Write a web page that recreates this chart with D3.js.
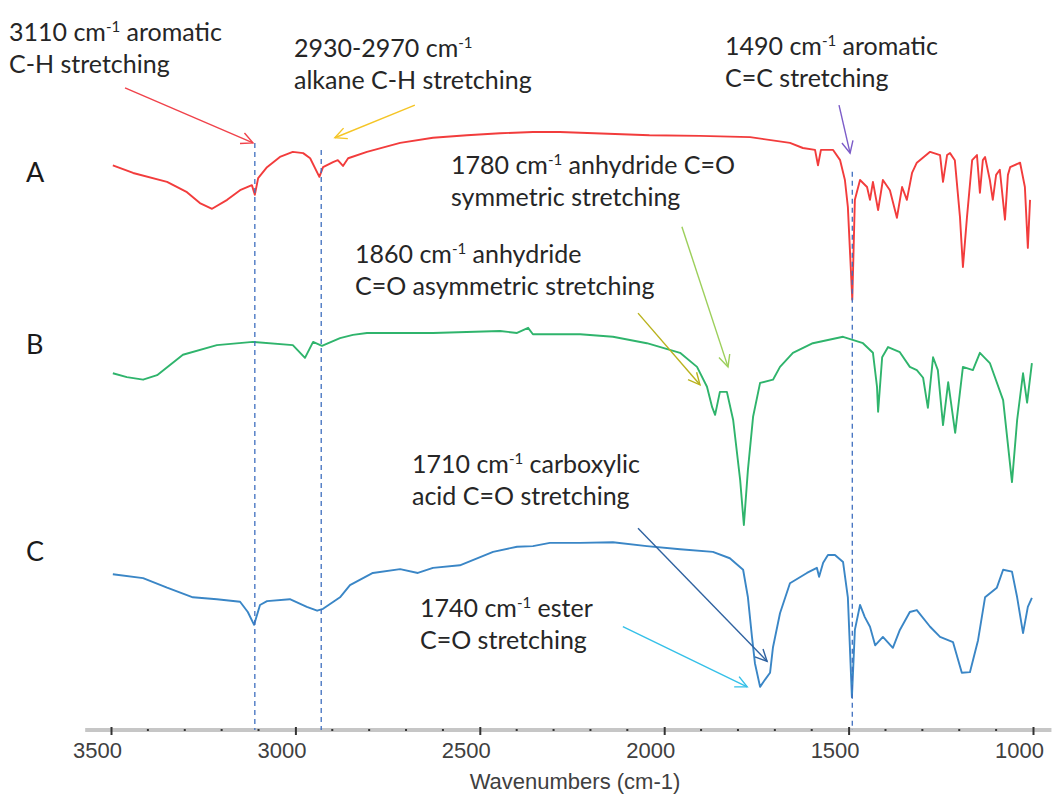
<!DOCTYPE html>
<html>
<head>
<meta charset="utf-8">
<script src="https://cdn.jsdelivr.net/npm/d3@7"></script>
<style>
  body { margin: 0; background: #fff; }
  svg { display: block; }
</style>
</head>
<body>
<svg id="chart" width="1052" height="795"></svg>
<script>
// FTIR spectra, [wavenumber (cm-1), transmittance (a.u., stacked)]
const traceA = [
  [3495, 89.8], [3440, 88.6], [3348, 87.2], [3294, 85.6], [3259, 83.9], [3226, 83.0],
  [3185, 84.4], [3150, 85.9], [3118, 86.7], [3110, 85.2], [3101, 87.8], [3077, 89.5],
  [3042, 91.1], [3007, 91.9], [2979, 91.7], [2960, 90.9], [2935, 88.0], [2925, 89.5],
  [2898, 90.3], [2885, 90.6], [2871, 89.7], [2857, 90.9], [2806, 91.9], [2716, 93.3],
  [2627, 94.1], [2535, 94.5], [2445, 94.8], [2356, 95.0], [2283, 95.0], [2040, 94.5],
  [1903, 94.4], [1767, 94.2], [1659, 93.3], [1624, 92.5], [1591, 92.2], [1583, 89.8],
  [1575, 92.2], [1542, 92.2], [1523, 90.6], [1510, 87.5], [1502, 83.3], [1490, 68.8],
  [1483, 84.4], [1469, 87.5], [1450, 86.4], [1442, 84.4], [1434, 87.2], [1420, 82.8],
  [1407, 87.5], [1388, 85.9], [1369, 81.6], [1355, 86.4], [1342, 84.4], [1328, 88.6],
  [1315, 90.2], [1279, 91.9], [1252, 91.4], [1244, 87.2], [1233, 91.4], [1225, 91.7],
  [1212, 90.6], [1198, 81.7], [1190, 73.9], [1179, 81.7], [1165, 90.6], [1152, 91.4],
  [1144, 85.5], [1136, 90.6], [1130, 91.1], [1117, 87.5], [1109, 84.4], [1100, 88.3],
  [1090, 89.1], [1076, 81.3], [1068, 88.3], [1062, 89.5], [1035, 90.2], [1022, 86.4],
  [1014, 76.9], [1008, 84.4]
];
const traceB = [
  [3495, 57.3], [3457, 56.7], [3413, 56.3], [3375, 57.0], [3305, 60.2], [3213, 61.7],
  [3115, 62.2], [3007, 61.7], [2974, 59.7], [2952, 62.2], [2928, 61.6], [2879, 62.8],
  [2844, 63.3], [2806, 63.6], [2627, 63.6], [2445, 63.9], [2399, 63.6], [2369, 64.4],
  [2356, 63.4], [2228, 63.4], [2139, 63.0], [2047, 62.0], [1957, 60.5], [1911, 58.3],
  [1884, 55.2], [1870, 52.0], [1862, 50.8], [1849, 54.4], [1830, 54.4], [1813, 50.0],
  [1794, 40.6], [1784, 33.6], [1773, 42.2], [1759, 50.5], [1740, 55.8], [1705, 56.3],
  [1686, 58.3], [1651, 60.5], [1597, 62.0], [1515, 63.0], [1461, 62.0], [1434, 60.5],
  [1423, 55.2], [1420, 51.3], [1409, 59.8], [1393, 61.4], [1361, 60.6], [1334, 58.3],
  [1315, 57.8], [1298, 56.6], [1285, 51.9], [1271, 59.8], [1258, 57.8], [1244, 49.2],
  [1230, 55.9], [1211, 48.0], [1190, 58.3], [1163, 57.8], [1144, 60.5], [1117, 58.9],
  [1081, 53.1], [1057, 40.3], [1043, 50.0], [1027, 57.3], [1016, 52.7], [1003, 58.9]
];
const traceC = [
  [3495, 25.9], [3413, 25.3], [3348, 23.8], [3278, 22.3], [3213, 22.0], [3150, 21.6],
  [3129, 20.0], [3112, 18.0], [3096, 21.1], [3077, 21.7], [3015, 22.0], [2969, 20.8],
  [2941, 20.2], [2925, 20.5], [2879, 22.3], [2852, 24.2], [2790, 26.1], [2716, 26.7],
  [2668, 26.1], [2627, 26.9], [2554, 27.3], [2464, 29.4], [2399, 30.2], [2356, 30.3],
  [2310, 30.8], [2228, 30.8], [2139, 30.9], [2047, 30.3], [1957, 29.8], [1868, 29.4],
  [1822, 28.4], [1786, 26.6], [1773, 22.3], [1762, 16.1], [1754, 12.0], [1740, 8.3],
  [1727, 9.4], [1713, 10.5], [1705, 14.5], [1686, 19.8], [1659, 24.5], [1613, 26.1],
  [1586, 26.9], [1580, 25.5], [1569, 27.7], [1556, 28.9], [1537, 28.9], [1515, 27.8],
  [1502, 22.3], [1491, 6.7], [1483, 17.2], [1469, 21.1], [1456, 19.2], [1442, 17.7],
  [1428, 14.8], [1407, 16.1], [1380, 14.4], [1361, 17.2], [1334, 20.0], [1315, 20.3],
  [1279, 17.7], [1252, 16.1], [1217, 15.3], [1193, 10.5], [1171, 10.6], [1149, 15.6],
  [1130, 22.3], [1098, 23.8], [1081, 26.6], [1057, 26.3], [1043, 22.3], [1027, 16.7],
  [1014, 20.8], [1003, 22.2]
];

const seriesNames = ["A", "B", "C"];
const seriesColors = ["#f23c3c", "#2fb46c", "#3a86c6"];

// axis ticks
const majorTicks = [3500, 3000, 2500, 2000, 1500, 1000];
const minorTicks = d3.range(3500, 999, -100).filter(d => d % 500 !== 0);

// dashed guide lines: [wavenumber, top value]
const guideLines = [[3110, 93.3], [2930, 92.2], [1490, 88.8]];

// arrows: [start wn, start value, tip wn, tip value, colour]
const arrows = [
  [3462, 101.9, 3115, 93.3, "#f0424a"],
  [2676, 99.2, 2893, 94.1, "#f5c526"],
  [1526, 99.2, 1496, 91.7, "#7c5cc8"],
  [1952, 80.2, 1827, 58.3, "#9ccf5a"],
  [2071, 66.7, 1903, 55.5, "#b9b21c"],
  [2071, 33.1, 1721, 12.3, "#2f62a0"],
  [2112, 17.7, 1775, 8.3, "#35c0e8"]
];

// notes: x, baseline of first line, [number, rest of first line], second line
const notes = [
  [9, 41, ["3110 cm", " aromatic"], "C-H stretching"],
  [294, 57, ["2930-2970 cm", ""], "alkane C-H stretching"],
  [725, 55, ["1490 cm", " aromatic"], "C=C stretching"],
  [451, 174, ["1780 cm", " anhydride C=O"], "symmetric stretching"],
  [355, 263, ["1860 cm", " anhydride"], "C=O asymmetric stretching"],
  [412, 473, ["1710 cm", " carboxylic"], "acid C=O stretching"],
  [420, 617, ["1740 cm", " ester"], "C=O stretching"]
];
const labelBaselines = [182, 354, 561];

const svg = d3.select("#chart");

const x = d3.scaleLinear().domain([3500, 1000]).range([111, 1033]);
const y = d3.scaleLinear().domain([0, 100]).range([740, 100]);

const line = d3.line()
  .x(d => x(d[0]))
  .y(d => y(d[1]));

// axis band, drawn a bit wider than the data range
const axisY = 730;
svg.append("line")
  .attr("x1", x(3570)).attr("x2", x(950))
  .attr("y1", axisY).attr("y2", axisY)
  .attr("stroke", "#c6c6c6")
  .attr("stroke-width", 4);

svg.selectAll(".minor")
  .data(minorTicks)
  .enter().append("rect")
  .attr("class", "minor")
  .attr("x", d => x(d) - 1)
  .attr("y", axisY - 1)
  .attr("width", 2)
  .attr("height", 2)
  .attr("fill", "#333");

const xAxis = d3.axisBottom(x)
  .tickValues(majorTicks)
  .tickSize(8)
  .tickFormat(d3.format("d"));

const gx = svg.append("g")
  .attr("transform", `translate(0, ${axisY - 3})`)
  .call(xAxis);
gx.select(".domain").remove();
gx.selectAll(".tick line").attr("stroke", "#333").attr("stroke-width", 2);
gx.selectAll(".tick text")
  .attr("y", 31)
  .attr("dy", 0)
  .attr("dx", -14)
  .attr("fill", "#404040")
  .attr("font-family", "'Liberation Sans', Arial, sans-serif")
  .attr("font-size", 22);

svg.append("text")
  .attr("x", 575)
  .attr("y", 789)
  .attr("text-anchor", "middle")
  .attr("fill", "#404040")
  .attr("font-family", "'Liberation Sans', Arial, sans-serif")
  .attr("font-size", 22)
  .text("Wavenumbers (cm-1)");

// spectra
[traceA, traceB, traceC].forEach((trace, i) => {
  svg.append("path")
    .datum(trace)
    .attr("fill", "none")
    .attr("stroke", seriesColors[i])
    .attr("stroke-width", 1.9)
    .attr("stroke-linejoin", "round")
    .attr("d", line);
});

// dashed guides down to the axis
svg.selectAll(".guide")
  .data(guideLines)
  .enter().append("line")
  .attr("class", "guide")
  .attr("x1", d => x(d[0])).attr("x2", d => x(d[0]))
  .attr("y1", d => y(d[1])).attr("y2", axisY)
  .attr("stroke", "#3f6fbf")
  .attr("stroke-width", 1.3)
  .attr("stroke-dasharray", "5,4");

// arrows with open heads
const arrowG = svg.append("g");
arrows.forEach(a => {
  const x0 = x(a[0]), y0 = y(a[1]), x1 = x(a[2]), y1 = y(a[3]);
  const ang = Math.atan2(y1 - y0, x1 - x0);
  const len = 13, spread = 0.45;
  arrowG.append("line")
    .attr("x1", x0).attr("y1", y0).attr("x2", x1).attr("y2", y1)
    .attr("stroke", a[4]).attr("stroke-width", 1.4);
  arrowG.append("path")
    .attr("d", `M${x1 - len * Math.cos(ang - spread)},${y1 - len * Math.sin(ang - spread)}L${x1},${y1}L${x1 - len * Math.cos(ang + spread)},${y1 - len * Math.sin(ang + spread)}`)
    .attr("fill", "none")
    .attr("stroke", a[4]).attr("stroke-width", 1.4);
});

// text notes
const noteFont = "Lato, 'Open Sans', sans-serif";
notes.forEach(n => {
  const t = svg.append("text")
    .attr("x", n[0]).attr("y", n[1])
    .attr("fill", "#262626")
    .attr("font-family", noteFont)
    .attr("font-size", 25);
  t.append("tspan").text(n[2][0]);
  t.append("tspan").attr("font-size", 15).attr("dy", -9).text("-1");
  t.append("tspan").attr("dy", 9).text(n[2][1]);
  svg.append("text")
    .attr("x", n[0]).attr("y", n[1] + 32)
    .attr("fill", "#262626")
    .attr("font-family", noteFont)
    .attr("font-size", 25)
    .text(n[3]);
});

// series letters
svg.selectAll(".series-label")
  .data(seriesNames)
  .enter().append("text")
  .attr("class", "series-label")
  .attr("x", 26)
  .attr("y", (d, i) => labelBaselines[i])
  .attr("fill", "#1a1a1a")
  .attr("font-family", noteFont)
  .attr("font-size", 27)
  .text(d => d);
</script>
</body>
</html>
